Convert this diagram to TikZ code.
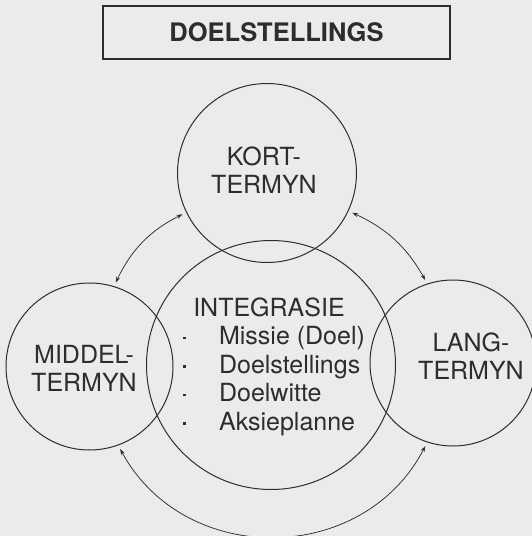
\documentclass[tikz,border=0pt]{standalone}
\usepackage{fontspec}
\setmainfont{TeX Gyre Heros}
\usetikzlibrary{arrows.meta}
\definecolor{papier}{RGB}{235,235,235}
\definecolor{inkt}{RGB}{45,45,45}
\newcommand{\stip}{\makebox[36pt][l]{\raisebox{5.5pt}{\rule{2.6pt}{2.6pt}}}}
\begin{document}
\begin{tikzpicture}[x=1pt,y=-1pt,
  kring/.style={draw=inkt, line width=1pt, circle, inner sep=0pt},
  teks/.style={text=inkt, align=center, inner sep=0pt, font=\fontsize{25}{28}\selectfont},
  pyl/.style={draw=inkt, line width=0.75pt, {Stealth[length=6pt,width=4pt]}-{Stealth[length=6pt,width=4pt]}, shorten <=4pt, shorten >=4pt}]

\fill[papier] (0,0) rectangle (532,536);
\useasboundingbox (0,0) rectangle (532,536);
\node[draw=inkt, line width=1.4pt, minimum width=347pt, minimum height=53pt, inner sep=0pt, text=inkt, font=\bfseries\fontsize{25.5}{28}\selectfont] (doelstellings) at (276.5,32.5) {DOELSTELLINGS};
\node[kring, minimum size=179pt] (kort) at (267,173) {};
\node[kring, minimum size=167pt] (middel) at (89.5,366.5) {};
\node[kring, minimum size=166pt] (lang) at (453,363) {};
\node[kring, minimum size=249pt] (integrasie) at (271,365) {};
\node[teks] (kortteks) at (264,170) {KORT-\\TERMYN};
\node[teks] (middelteks) at (84,368.5) {MIDDEL-\\TERMYN};
\node[teks] (langteks) at (471,356.5) {LANG-\\TERMYN};
\node[teks, anchor=base] (integrasieteks) at (269,316) {INTEGRASIE};
\node[teks, align=left, font=\fontsize{25}{28.5}\selectfont] (lys) at (274,381) {\stip Missie (Doel)\\\stip Doelstellings\\\stip Doelwitte\\\stip Aksieplanne};
\draw[pyl] (middel.73) to[bend left=19] (kort.206);
\draw[pyl] (kort.335) to[bend left=18] (lang.108);
\draw[pyl] (lang.252) to[bend left=62, looseness=1.15] (middel.290);
\end{tikzpicture}
\end{document}
